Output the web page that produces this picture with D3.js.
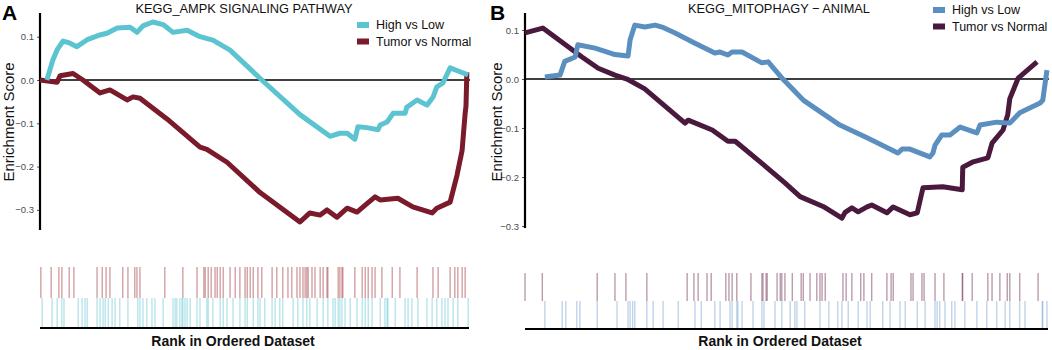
<!DOCTYPE html>
<html>
<head>
<meta charset="utf-8">
<script src="https://cdn.jsdelivr.net/npm/d3@7"></script>
<style>
  body { margin: 0; background: #fff; }
  text { font-family: "Liberation Sans", Arial, sans-serif; }
</style>
</head>
<body>
<svg id="chart" width="1052" height="350"></svg>
<script>
// Donnees : rang (0-1000) et score d'enrichissement
const ampkHighLow = [[16,0],[30,0.046],[40,0.07],[54,0.09],[70,0.085],[86,0.077],[110,0.093],[140,0.104],[156,0.108],[180,0.12],[210,0.122],[226,0.11],[240,0.125],[263,0.134],[287,0.128],[310,0.11],[343,0.115],[373,0.1],[403,0.092],[443,0.069],[517,0],[606,-0.08],[676,-0.13],[699,-0.123],[716,-0.123],[734,-0.137],[741,-0.108],[762,-0.11],[788,-0.115],[793,-0.104],[809,-0.097],[823,-0.077],[851,-0.077],[855,-0.063],[879,-0.046],[902,-0.058],[916,-0.04],[925,-0.016],[939,-0.007],[956,0.028],[979,0.019],[998,0.012]];
const ampkTumorNormal = [[0,0],[40,-0.005],[47,0.01],[77,0.015],[100,0],[140,-0.03],[163,-0.023],[203,-0.046],[217,-0.039],[233,-0.042],[296,-0.09],[373,-0.155],[389,-0.16],[436,-0.19],[513,-0.26],[606,-0.328],[629,-0.307],[653,-0.312],[669,-0.3],[692,-0.317],[716,-0.296],[739,-0.305],[758,-0.289],[781,-0.27],[793,-0.277],[834,-0.273],[869,-0.293],[914,-0.307],[925,-0.296],[956,-0.282],[972,-0.22],[984,-0.162],[991,-0.077],[993,-0.06],[995,0.018]];
const ampkHitsTumor = [2,26,44,51,68,79,133,145,154,163,193,205,221,226,233,291,333,366,382,385,392,399,408,413,420,427,443,455,466,478,483,490,497,508,517,541,552,566,578,587,599,606,613,618,622,625,634,641,653,660,669,671,695,699,704,706,734,751,758,765,774,781,797,821,839,879,916,928,956,967,974,984,991];
const ampkHitsHigh = [5,28,40,51,56,89,98,105,110,133,140,147,152,159,168,175,186,205,228,233,240,249,261,268,287,310,315,319,326,331,333,338,343,350,366,373,389,392,403,420,427,436,450,466,478,483,497,508,513,524,541,548,559,566,590,601,613,622,629,646,660,671,683,688,695,699,704,711,723,739,751,758,765,774,793,804,809,811,828,851,858,867,881,902,914,925,937,944,951,963,974,998];

const mitoHighLow = [[38,0.004],[67,0.008],[76,0.036],[96,0.045],[101,0.07],[134,0.063],[172,0.05],[197,0.047],[201,0.08],[210,0.11],[229,0.106],[249,0.11],[262,0.106],[287,0.094],[325,0.073],[363,0.053],[373,0.055],[388,0.049],[396,0.055],[415,0.055],[453,0.033],[465,0.035],[493,0],[532,-0.043],[602,-0.094],[654,-0.12],[713,-0.151],[721,-0.143],[736,-0.143],[774,-0.159],[780,-0.151],[784,-0.135],[797,-0.114],[813,-0.114],[832,-0.098],[864,-0.11],[870,-0.094],[902,-0.088],[927,-0.09],[946,-0.069],[985,-0.049],[990,-0.043],[998,0.018]];
const mitoTumorNormal = [[0,0.094],[34,0.104],[109,0.045],[140,0.022],[172,0.008],[195,0],[229,-0.02],[306,-0.09],[312,-0.084],[358,-0.104],[388,-0.127],[402,-0.127],[453,-0.172],[497,-0.212],[526,-0.24],[570,-0.26],[606,-0.284],[612,-0.272],[625,-0.263],[637,-0.271],[654,-0.261],[663,-0.257],[692,-0.273],[704,-0.261],[736,-0.277],[750,-0.273],[761,-0.222],[799,-0.22],[836,-0.226],[837,-0.18],[857,-0.169],[885,-0.161],[893,-0.131],[914,-0.104],[923,-0.073],[927,-0.04],[943,0.002],[979,0.035]];
const mitoHitsTumor = [0,33,138,172,193,233,310,323,331,348,356,384,390,396,405,432,453,455,461,463,482,488,491,497,511,528,532,545,558,564,568,574,608,614,625,642,648,663,692,700,704,738,742,759,763,784,801,836,837,855,885,893,908,922,927,946,981];
const mitoHitsHigh = [38,71,78,99,105,138,176,197,201,206,210,233,245,264,293,325,337,363,373,392,396,405,407,415,436,453,457,478,491,507,516,520,535,564,581,598,606,618,637,654,660,684,698,717,727,750,765,784,788,793,803,816,822,841,864,883,902,918,927,946,956,989,990,998];

const seriesNames = ["High vs Low", "Tumor vs Normal"];
const yTicks = [0.1, 0.0, -0.1, -0.2, -0.3];

const svg = d3.select("#chart");

const panels = [
  {letter: "A", title: "KEGG_AMPK SIGNALING PATHWAY", lines: [ampkHighLow, ampkTumorNormal],
   hits: [ampkHitsTumor, ampkHitsHigh], colors: ["#5cc4d0", "#7a1a2a"], hitColors: ["#a8474f", "#5cc4d0"],
   x0: 40, x1: 469, yDomain: [-0.3464, 0.1547], yRange: [230, 13], rugTop: 267, rugMid: 298, rugBot: 328,
   letterX: 2, titleX: 244, ylabX: 14, legX: 357, legY: 25, rankX: 233},
  {letter: "B", title: "KEGG_MITOPHAGY \u2212 ANIMAL", lines: [mitoHighLow, mitoTumorNormal],
   hits: [mitoHitsTumor, mitoHitsHigh], colors: ["#5b8fc0", "#4a1a3e"], hitColors: ["#7a3e5e", "#6f9ccb"],
   x0: 525, x1: 1048, yDomain: [-0.304, 0.1347], yRange: [228, 13], rugTop: 273, rugMid: 301, rugBot: 329,
   letterX: 490, titleX: 779, ylabX: 502, legX: 933, legY: 10, rankX: 780}
];

panels.forEach(p => {
  const g = svg.append("g");
  const x = d3.scaleLinear().domain([0, 1000]).range([p.x0, p.x1]);
  const y = d3.scaleLinear().domain(p.yDomain).range(p.yRange);

  // lettre du panneau
  g.append("text").attr("x", p.letterX).attr("y", 20)
    .style("font-size", "21px").style("font-weight", "bold").text(p.letter);

  g.append("text").attr("x", p.titleX).attr("y", 13).attr("text-anchor", "middle")
    .style("font-size", "12.8px").attr("fill", "#111").text(p.title);

  // axe y
  const yAxis = g.append("g").attr("transform", "translate(" + p.x0 + ",0)")
    .call(d3.axisLeft(y).tickValues(yTicks).tickFormat(d3.format(".1f")).tickSize(3).tickPadding(3));
  yAxis.select(".domain").remove();
  yAxis.selectAll(".tick line").attr("stroke", "#555");
  yAxis.selectAll(".tick text").attr("fill", "#4d4d4d").style("font-size", "9.5px")
    .style("font-family", "Liberation Sans, Arial, sans-serif");
  g.append("line").attr("x1", p.x0).attr("x2", p.x0).attr("y1", p.yRange[1]).attr("y2", p.yRange[0])
    .attr("stroke", "#000").attr("stroke-width", 2.2);

  g.append("text").attr("transform", "translate(" + p.ylabX + ",122) rotate(-90)")
    .attr("text-anchor", "middle").style("font-size", "15px").attr("fill", "#111").text("Enrichment Score");

  // ligne zero
  g.append("line").attr("x1", p.x0).attr("x2", p.x1 + 1).attr("y1", y(0)).attr("y2", y(0))
    .attr("stroke", "#000").attr("stroke-width", 1.5);

  const line = d3.line().x(d => x(d[0])).y(d => y(d[1]));
  [1, 0].forEach(i => {
    g.append("path").datum(p.lines[i]).attr("d", line)
      .attr("fill", "none").attr("stroke", p.colors[i]).attr("stroke-width", 5)
      .attr("stroke-linejoin", "round").attr("stroke-linecap", "butt");
  });

  // legende
  seriesNames.forEach((name, i) => {
    g.append("rect").attr("x", p.legX).attr("y", p.legY - 3 + i * 16.5).attr("width", 12).attr("height", 6)
      .attr("fill", p.colors[i]);
    g.append("text").attr("x", p.legX + 19).attr("y", p.legY + 4 + i * 16.5)
      .style("font-size", "12.5px").attr("fill", "#111").text(name);
  });

  // rug des genes
  g.append("g").selectAll("line").data(p.hits[0]).join("line")
    .attr("x1", d => x(d)).attr("x2", d => x(d)).attr("y1", p.rugTop).attr("y2", p.rugMid)
    .attr("stroke", p.hitColors[0]).attr("stroke-width", 1.2).attr("stroke-opacity", 0.6);
  g.append("g").selectAll("line").data(p.hits[1]).join("line")
    .attr("x1", d => x(d)).attr("x2", d => x(d)).attr("y1", p.rugMid).attr("y2", p.rugBot)
    .attr("stroke", p.hitColors[1]).attr("stroke-width", 1.2).attr("stroke-opacity", 0.5);
  g.append("line").attr("x1", p.x0).attr("x2", p.x1).attr("y1", p.rugBot).attr("y2", p.rugBot)
    .attr("stroke", "#000").attr("stroke-width", 2);

  g.append("text").attr("x", p.rankX).attr("y", 346).attr("text-anchor", "middle")
    .style("font-size", "14px").style("font-weight", "bold").attr("fill", "#111").text("Rank in Ordered Dataset");
});
</script>
</body>
</html>
